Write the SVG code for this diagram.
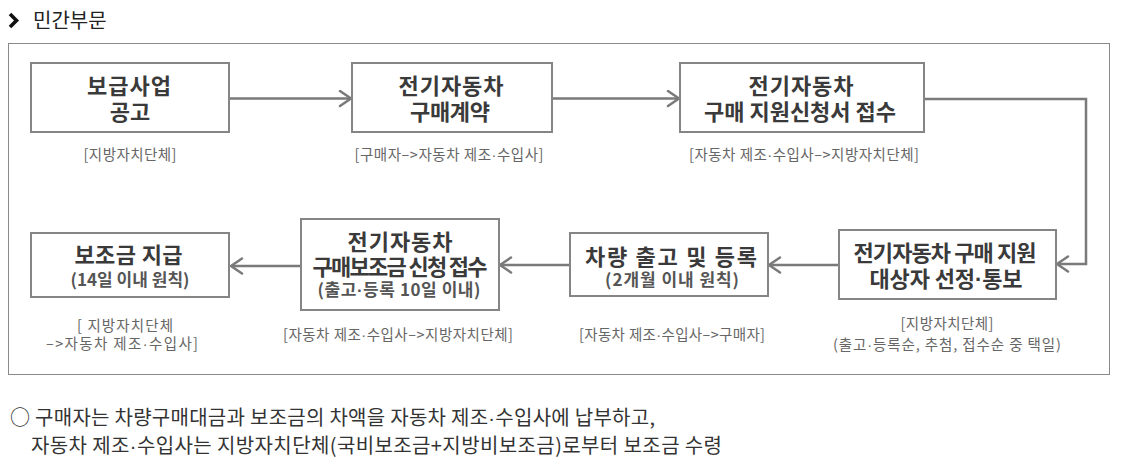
<svg xmlns="http://www.w3.org/2000/svg" width="1122" height="467" viewBox="0 0 1122 467">
<style>
  .box{fill:#fff;stroke:#858585;stroke-width:2}
  .t{font-family:"Noto Sans CJK KR","Noto Sans",sans-serif;font-weight:700;font-size:22px;fill:#3a3a3a;text-anchor:middle}
  .s{font-family:"Noto Sans CJK KR","Noto Sans",sans-serif;font-weight:700;font-size:17px;fill:#555;text-anchor:middle}
  .l{font-family:"Noto Sans CJK KR","Noto Sans",sans-serif;font-size:14.5px;fill:#666;text-anchor:middle}
  .c{fill:none;stroke:#7a7a7a;stroke-width:2.5}
  .body{font-family:"Noto Sans CJK KR","Noto Sans",sans-serif;font-size:20px;fill:#333}
  .d{font-family:"Liberation Sans",sans-serif}
</style>
<defs>
  <marker id="arr" markerUnits="userSpaceOnUse" markerWidth="16" markerHeight="18" viewBox="0 0 16 18" refX="13" refY="9" orient="auto">
    <path d="M2,1.5 L13,9 L2,16.5" fill="none" stroke="#7a7a7a" stroke-width="2.5" stroke-linecap="round" stroke-linejoin="round"/>
  </marker>
</defs>
<rect width="1122" height="467" fill="#fff"/>
<g id="header">
  <path d="M10,14 L16.5,20.5 L10,27" fill="none" stroke="#111" stroke-width="3.6"/>
  <text x="33" y="28" font-family="Noto Sans CJK KR, Noto Sans, sans-serif" font-size="20" fill="#222">민간부문</text>
</g>
<rect id="panel" x="8.5" y="43.5" width="1101" height="331" fill="none" stroke="#8a8a8a" stroke-width="1"/>
<g id="connectors">
  <path class="c" d="M230,98.5 H351" marker-end="url(#arr)"/>
  <path class="c" d="M552,98.5 H679" marker-end="url(#arr)"/>
  <path class="c" d="M924,99 H1086 V264 H1057" marker-end="url(#arr)"/>
  <path class="c" d="M839,265 H769" marker-end="url(#arr)"/>
  <path class="c" d="M570,265 H500" marker-end="url(#arr)"/>
  <path class="c" d="M302,266 H231" marker-end="url(#arr)"/>
</g>
<g id="n1">
  <rect class="box" x="31" y="63" width="198" height="69"/>
  <text class="t" x="129" y="94" textLength="84">보급사업</text>
  <text class="t" x="130" y="120">공고</text>
  <text class="l" x="130" y="160" textLength="93">[지방자치단체]</text>
</g>
<g id="n2">
  <rect class="box" x="352" y="63" width="200" height="69"/>
  <text class="t" x="451" y="94" textLength="105">전기자동차</text>
  <text class="t" x="450" y="120" textLength="80">구매계약</text>
  <text class="l" x="449" y="160" textLength="189">[구매자–&gt;자동차 제조<tspan class="d">·</tspan>수입사]</text>
</g>
<g id="n3">
  <rect class="box" x="680" y="63" width="244" height="69"/>
  <text class="t" x="801" y="94" textLength="105">전기자동차</text>
  <text class="t" x="800" y="120" textLength="192">구매 지원신청서 접수</text>
  <text class="l" x="804" y="160" textLength="230">[자동차 제조<tspan class="d">·</tspan>수입사–&gt;지방자치단체]</text>
</g>
<g id="n4">
  <rect class="box" x="839" y="230" width="217" height="69"/>
  <text class="t" x="945" y="261" textLength="183">전기자동차 구매 지원</text>
  <text class="t" x="946" y="287" textLength="153">대상자 선정<tspan class="d">·</tspan>통보</text>
  <text class="l" x="947" y="329" textLength="93">[지방자치단체]</text>
  <text class="l" x="947" y="350" textLength="228">(출고<tspan class="d">·</tspan>등록순, 추첨, 접수순 중 택일)</text>
</g>
<g id="n5">
  <rect class="box" x="570" y="233" width="198" height="63"/>
  <text class="t" x="671" y="265" textLength="172">차량 출고 및 등록</text>
  <text class="s" x="672" y="286" textLength="134">(2개월 이내 원칙)</text>
  <text class="l" x="672" y="340" textLength="186">[자동차 제조<tspan class="d">·</tspan>수입사–&gt;구매자]</text>
</g>
<g id="n6">
  <rect class="box" x="301" y="219" width="198" height="91"/>
  <text class="t" x="400" y="250" textLength="105">전기자동차</text>
  <text class="t" x="400" y="275" textLength="175">구매보조금 신청 접수</text>
  <text class="s" x="399" y="296" textLength="163">(출고<tspan class="d">·</tspan>등록 10일 이내)</text>
  <text class="l" x="398" y="340" textLength="230">[자동차 제조<tspan class="d">·</tspan>수입사–&gt;지방자치단체]</text>
</g>
<g id="n7">
  <rect class="box" x="31" y="233" width="198" height="64"/>
  <text class="t" x="128.5" y="263" textLength="108">보조금 지급</text>
  <text class="s" x="130" y="286" textLength="119">(14일 이내 원칙)</text>
  <text class="l" x="125" y="331" font-size="15.5" textLength="96">[ 지방자치단체</text>
  <text class="l" x="122" y="349" font-size="15.5" textLength="152">–&gt;자동차 제조<tspan class="d">·</tspan>수입사]</text>
</g>
<g id="note">
  <text class="body" x="10" y="425" textLength="645">○ 구매자는 차량구매대금과 보조금의 차액을 자동차 제조<tspan class="d">·</tspan>수입사에 납부하고,</text>
  <text class="body" x="31" y="453" textLength="691">자동차 제조<tspan class="d">·</tspan>수입사는 지방자치단체(국비보조금+지방비보조금)로부터 보조금 수령</text>
</g>
</svg>
